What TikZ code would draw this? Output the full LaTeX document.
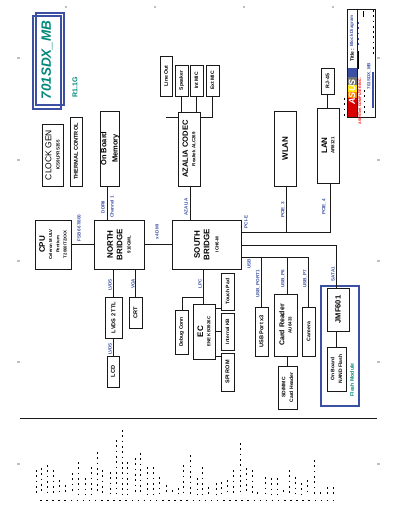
\documentclass[tikz,border=0pt]{standalone}
\usepackage{fontspec}
\usepackage{graphicx}
\setmainfont{Liberation Sans}
\definecolor{cblue}{HTML}{3B50A3}
\definecolor{cteal}{HTML}{00897B}
\tikzset{
  every picture/.style={x=1pt,y=-1pt,line cap=rect},
  blk/.style={draw=black!90,line width=0.95pt,inner sep=0pt,outer sep=0pt,align=center},
  wire/.style={draw=black!90,line width=0.95pt},
  sig/.style={cblue,font=\bfseries\fontsize{4.6}{5}\selectfont,inner sep=0pt},
  notes/.style={line width=1pt,dash pattern=on 1.7pt off 3.6pt,line cap=butt},
  tick/.style={black!25,line width=1.2pt,line cap=butt},
}
% block from its pixel corners, text turned with the sheet
\newcommand{\blockbox}[6]{%
  \node[blk,minimum width={(#4-#2)*1pt},minimum height={(#5-#3)*1pt}] (#1)
    at ({(#2+#4)/2},{(#3+#5)/2}) {\rotatebox{90}{\shortstack[c]{#6}}};}
\newcommand{\fs}[1]{\fontsize{#1}{#1}\selectfont}
\newcommand{\fb}[1]{\bfseries\fontsize{#1}{#1}\selectfont}
\newcommand{\siglab}[4]{\node[sig,rotate=90] (#1) at (#2,#3) {#4};}

\begin{document}
\begin{tikzpicture}
  \useasboundingbox (0,0) rectangle (400,518);

  % sheet ticks
  \foreach \x in {66,155,244,333} \draw[tick] (\x-1,7) -- (\x+1,7);
  \foreach \y in {58,160,261,362,464} {
    \draw[tick] (17,\y) -- (20,\y);
    \draw[tick] (377,\y) -- (380,\y);
  }

  % title
  \draw[cblue,line width=1.8pt] (33,16) rectangle (61,109);
  \draw[cblue,line width=1.2pt] (36,13) rectangle (64,105);
  \node[cteal,rotate=90,inner sep=0pt,font=\bfseries\itshape\fs{13.5}] (board) at (47,60) {701SDX\_MB};
  \node[cteal,rotate=90,inner sep=0pt,font=\bfseries\fs{7}] (rev) at (75,87) {R1.1G};

  % upper row
  \blockbox{clk}{42}{124}{63}{186}{\fs{8.5}CLOCK GEN\\[2pt]\fb{4.5}ICS9LPRS355}
  \blockbox{therm}{70}{117}{82}{186}{\fb{5.6}THERMAL CONTROL}
  \blockbox{mem}{101}{111}{119}{186}{\fb{7.5}On Board\\[3pt]\fb{7.5}Memory}
  \blockbox{codec}{178}{112}{200}{186}{\fb{7.6}AZALIA CODEC\\[1pt]\fb{4.5}Realtek ALC269}
  \blockbox{lineout}{160}{56}{172}{96}{\fb{5.2}Line Out}
  \blockbox{spk}{175}{65}{188}{96}{\fb{5}Speaker}
  \blockbox{imic}{190}{65}{203}{96}{\fb{5}Int MIC}
  \blockbox{emic}{206}{65}{219}{96}{\fb{5}Ext MIC}
  \blockbox{wlan}{274}{111}{296}{186}{\fb{8}WLAN}
  \blockbox{lan}{317}{108}{339}{183}{\fb{8}LAN\\[1pt]\fb{4.5}AR8121}
  \blockbox{rj}{321}{68}{334}{94}{\fb{5.2}RJ-45}

  % chipset
  \blockbox{cpu}{35}{220}{71}{269}{\fb{8}CPU\\[1pt]\fb{4.3}Celeron M ULV\\[1pt]\fb{4.3}Pentium\\[1pt]\fb{4.3}T2060/T2XXX}
  \blockbox{nb}{94}{220}{144}{269}{\fb{8}NORTH\\[1pt]\fb{8}BRIDGE\\[2pt]\fb{4.5}910GML}
  \blockbox{sb}{172}{220}{241}{269}{\fb{8}SOUTH\\[1pt]\fb{8}BRIDGE\\[3pt]\fb{4.5}ICH6-M}

  % lower row
  \blockbox{lvds}{105}{297}{122}{338}{\fb{5.6}LVDS 2 TTL}
  \blockbox{crt}{129}{297}{142}{328}{\fb{5.6}CRT}
  \blockbox{lcd}{107}{356}{119}{387}{\fb{5.6}LCD}
  \blockbox{dbg}{175}{310}{188}{354}{\fb{5}Debug Conn}
  \blockbox{ec}{193}{304}{215}{359}{\fb{8}EC\\[1pt]\fb{4.4}ENE KB3926C}
  \blockbox{tpad}{221}{273}{234}{310}{\fb{5}Touch Pad}
  \blockbox{kb}{221}{313}{234}{350}{\fb{4.8}Internal KB}
  \blockbox{rom}{221}{353}{234}{391}{\fb{5.5}SPI ROM}
  \blockbox{usb}{255}{307}{268}{356}{\fb{5.6}USB Port x3}
  \blockbox{card}{274}{294}{297}{356}{\fb{7}Card Reader\\[1pt]\fb{4.5}AU6433}
  \blockbox{cam}{302}{307}{315}{356}{\fb{5.2}Camera}
  \blockbox{sd}{278}{366}{297}{409}{\fb{5}SD/MMC\\[1pt]\fb{5}Card Header}
  \blockbox{jmf}{327}{288}{349}{331}{\fb{7.5}JMF601}
  \blockbox{nand}{327}{347}{346}{391}{\fb{5}On Board\\[1pt]\fb{5}NAND Flash}

  % flash module
  \draw[cblue,line width=1.7pt] (321,286) rectangle (359,406);
  \node[cteal,rotate=90,inner sep=0pt,font=\bfseries\fs{5.2}] (flash) at (352,380) {Flash Module};

  % connectors
  \coordinate (cline) at (166,117);
  \draw[wire] (cline) -- (codec.west |- cline);
  \draw[wire] (spk.south) -- (spk.south |- codec.north);
  \draw[wire] (imic.south) -- (imic.south |- codec.north);
  \draw[wire] (emic.south) |- (codec.east |- cline);
  \draw[wire] ([xshift=-3pt]mem.south) -- ([xshift=-3pt]mem.south |- nb.north);
  \draw[wire] ([xshift=1pt]codec.south) -- ([xshift=1pt]codec.south |- sb.north);
  \draw[wire] (cpu) -- (nb);
  \draw[wire] (nb) -- (sb);
  \draw[wire] (rj.south) -- (rj.south |- lan.north);
  \draw[wire] (lvds.north) -- (lvds.north |- nb.south);
  \draw[wire] (crt.north) -- (crt.north |- nb.south);
  \draw[wire] (lvds.south) -- (lvds.south |- lcd.north);
  % PCIe bus
  \coordinate (pcie) at (241,232);
  \draw[wire] (pcie) -| ([xshift=2pt]lan.south);
  \draw[wire] ([xshift=1pt]wlan.south) -- ([xshift=1pt]wlan.south |- pcie);
  % SATA
  \coordinate (sata) at (241,245);
  \draw[wire] (sata) -| (jmf.north -| 336,0);
  \draw[wire] (336,331) -- (336,347);
  % USB bus
  \coordinate (usbbus) at (241,257);
  \draw[wire] (usbbus) -| (cam.north);
  \draw[wire] (usb.north) -- (usb.north |- usbbus);
  \draw[wire] ([xshift=1.5pt]card.north) -- ([xshift=1.5pt]card.north |- usbbus);
  \draw[wire] ([xshift=1.5pt]card.south) -- ([xshift=1.5pt]card.south |- sd.north);
  % LPC
  \coordinate (lpc) at (203,297);
  \draw[wire] (lpc |- sb.south) -- (lpc |- ec.north);
  \draw[wire] (lpc) -| (dbg.north -| 182,0);
  \draw[wire] (ec.east |- 0,308) -- (tpad.west |- 0,308);
  \draw[wire] (ec) -- (kb);
  \draw[wire] (ec.east |- 0,356) -- (rom.west |- 0,356);

  % signal names
  \siglab{s1}{103}{207}{DDRII}
  \siglab{s2}{112}{207}{Channel 1}
  \siglab{s3}{186}{207}{AZALIA}
  \siglab{s4}{79}{228}{FSB 667/800}
  \siglab{s5}{157}{232}{x4 DMI}
  \siglab{s6}{110}{285}{LVDS}
  \siglab{s7}{133}{284}{VGA}
  \siglab{s8}{110}{349}{LVDS}
  \siglab{s9}{200}{284}{LPC}
  \siglab{s10}{246}{222}{PCI-E}
  \siglab{s11}{283}{210}{PCIE\_3}
  \siglab{s12}{324}{207}{PCIE\_4}
  \siglab{s13}{249}{264}{USB}
  \siglab{s14}{258}{284}{USB\_PORT1}
  \siglab{s15}{283}{279}{USB\_P6}
  \siglab{s16}{305}{279}{USB\_P7}
  \siglab{s17}{333}{274}{SATA1}

  % title block
  \fill[cblue] (347,68) rectangle (357,77);
  \fill[black!55] (347,77) rectangle (357,85);
  \fill[yellow!85!orange] (347,85) rectangle (357,92);
  \fill[orange] (347,92) rectangle (357,98);
  \fill[red!85!black] (347,98) rectangle (357,117);
  \node[white,rotate=90,inner sep=0pt,font=\bfseries\itshape\fs{9}] (asus) at (352,92) {ASUS};
  \draw[black!90,line width=0.95pt] (347,9) rectangle (375,117);
  \draw[black!90,line width=0.95pt] (357,9) -- (357,117);
  \node[rotate=90,inner sep=0pt,font=\bfseries\fs{5}] (ttl) at (352,55) {Title :};
  \node[cblue,rotate=90,inner sep=0pt,font=\bfseries\fs{4.5}] (ttlb) at (352,31) {Block Diagram};
  \node[red,rotate=90,inner sep=0pt,font=\bfseries\fs{3.6}] (corp) at (360,101) {ASUSTeK COMPUTER INC.};
  \node[cblue,rotate=90,inner sep=0pt,font=\bfseries\fs{4.5}] (prj) at (369,76) {701SDX\_MB};
  \draw[line width=1.2pt] (358.5,52) -- (358.5,68);
  \draw[notes] (364,90) -- (364,114);
  \draw[line width=1pt] (363,12) -- (363,17);
  \draw[notes] (373,10) -- (373,55);
  \draw[cblue,line width=2.4pt,line cap=butt] (373,72) -- (373,108);
  \draw[notes,cblue] (358.5,22) -- (358.5,45);
  \draw[notes] (344,98) -- (344,117);

  % revision table
  \draw[black!90,line width=0.9pt] (20,418) -- (377,418);
  \foreach \x/\t in {36/470,41/468,47/465,53/470,59/480,65/485,72/473,78/462,85/478,91/467,
      97/452,102/470,110/472,116/440,122/430,127/462,135/458,140/453,147/467,153/467,159/477,
      166/485,172/490,178/488,183/465,190/455,197/478,202/467,208/487,216/483,221/482,227/480,
      233/470,240/443,246/468,252/470,257/492,265/477,271/478,277/478,283/490,289/470,295/477,
      301/483,307/480,314/460,320/492,327/487,333/487}
    \draw[notes] (\x,\t) -- (\x,494);
  \draw[line width=0.9pt,line cap=butt,dash pattern=on 1.5pt off 4.6pt] (40,500) -- (335,500);
\end{tikzpicture}
\end{document}
